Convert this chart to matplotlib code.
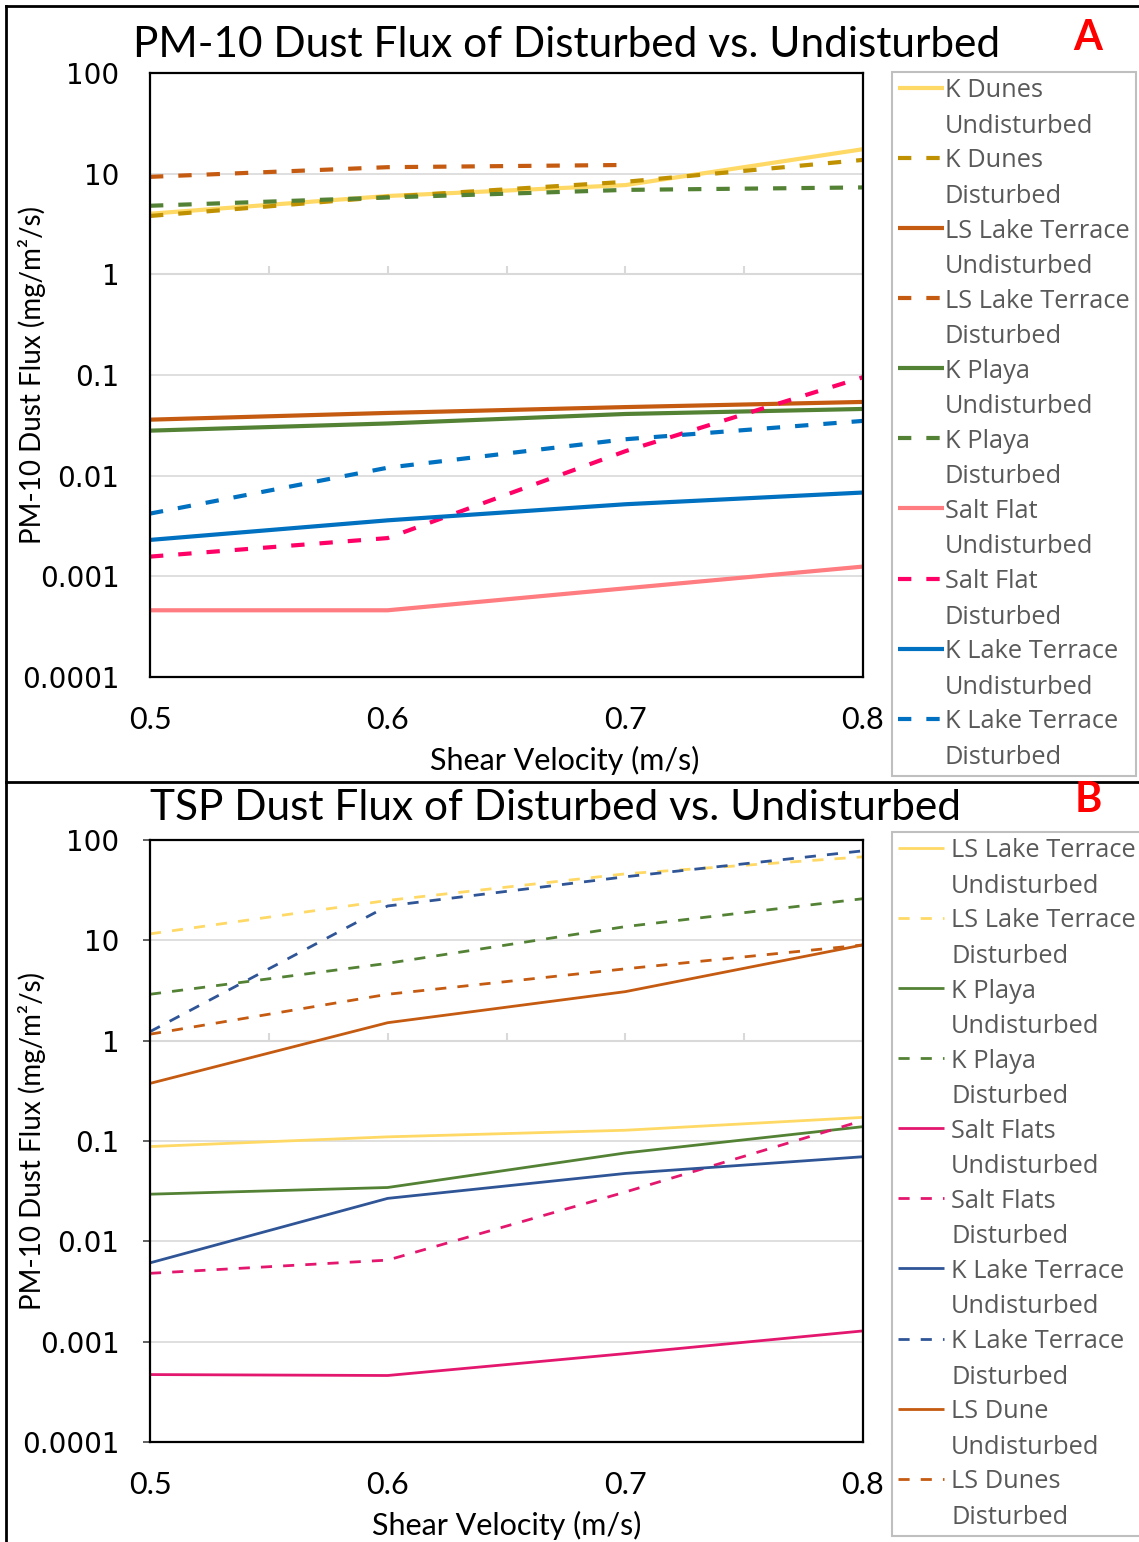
import numpy as np
import matplotlib
matplotlib.use("Agg")
import matplotlib.pyplot as plt
from matplotlib.lines import Line2D
from matplotlib.legend_handler import HandlerLine2D

# shear velocity (m/s)
shear = [0.5, 0.6, 0.7, 0.8]

# Panel A - PM-10 dust flux (mg/m2/s)
pm10_k_dunes_und = [4.0, 6.0, 7.7, 17.5]
pm10_k_dunes_dist = [3.8, 5.9, 8.3, 13.7]
pm10_ls_lake_und = [0.036, 0.042, 0.048, 0.054]
pm10_ls_lake_dist = [9.3, 11.6, 12.2, np.nan]
pm10_k_playa_und = [0.028, 0.033, 0.041, 0.046]
pm10_k_playa_dist = [4.8, 5.8, 6.9, 7.3]
pm10_salt_und = [0.00046, 0.00046, 0.00076, 0.00125]
pm10_salt_dist = [0.00157, 0.0024, 0.0175, 0.095]
pm10_k_lake_und = [0.0023, 0.0036, 0.0052, 0.0068]
pm10_k_lake_dist = [0.0042, 0.012, 0.023, 0.035]

pm10_labels = ["K Dunes\nUndisturbed", "K Dunes\nDisturbed",
               "LS Lake Terrace\nUndisturbed", "LS Lake Terrace\nDisturbed",
               "K Playa\nUndisturbed", "K Playa\nDisturbed",
               "Salt Flat\nUndisturbed", "Salt Flat\nDisturbed",
               "K Lake Terrace\nUndisturbed", "K Lake Terrace\nDisturbed"]
pm10_colors = ["#FFD966", "#BF9000", "#C55A11", "#C55A11", "#548235",
               "#548235", "#FF7C80", "#FF0066", "#0070C0", "#0070C0"]

# Panel B - TSP dust flux (mg/m2/s)
tsp_ls_lake_und = [0.088, 0.11, 0.128, 0.172]
tsp_ls_lake_dist = [11.6, 25, 46, 68]
tsp_k_playa_und = [0.0295, 0.0344, 0.076, 0.139]
tsp_k_playa_dist = [2.9, 5.9, 13.7, 26]
tsp_salt_und = [0.00047, 0.00046, 0.00076, 0.00128]
tsp_salt_dist = [0.0048, 0.0065, 0.031, 0.16]
tsp_k_lake_und = [0.0061, 0.0268, 0.0475, 0.0697]
tsp_k_lake_dist = [1.23, 22, 43, 78]
tsp_ls_dune_und = [0.375, 1.51, 3.08, 9.0]
tsp_ls_dune_dist = [1.16, 2.9, 5.2, 9.0]

tsp_labels = ["LS Lake Terrace\nUndisturbed", "LS Lake Terrace\nDisturbed",
              "K Playa\nUndisturbed", "K Playa\nDisturbed",
              "Salt Flats\nUndisturbed", "Salt Flats\nDisturbed",
              "K Lake Terrace\nUndisturbed", "K Lake Terrace\nDisturbed",
              "LS Dune\nUndisturbed", "LS Dunes\nDisturbed"]
tsp_colors = ["#FFD966", "#FFD966", "#548235", "#548235", "#E4176F",
              "#E4176F", "#2F5597", "#2F5597", "#C55A11", "#C55A11"]

y_ticks = [1e-4, 1e-3, 1e-2, 1e-1, 1, 10, 100]
y_ticklabels = ["0.0001", "0.001", "0.01", "0.1", "1", "10", "100"]
x_ticks = [0.5, 0.6, 0.7, 0.8]
x_ticklabels = ["0.5", "0.6", "0.7", "0.8"]
cross_ticks = [0.5, 0.55, 0.6, 0.65, 0.7, 0.75, 0.8]

W, H = 1139, 1542
fig = plt.figure(figsize=(W / 100, H / 100), dpi=100)


class FirstLineHandler(HandlerLine2D):
    # put the legend line next to the first text line, like Excel does
    def create_artists(self, legend, orig_handle, xdescent, ydescent,
                       width, height, fontsize, trans):
        arts = super().create_artists(legend, orig_handle, xdescent, ydescent,
                                      width, height, fontsize, trans)
        for a in arts:
            a.set_ydata(np.asarray(a.get_ydata()) + 0.84 * fontsize)
        return arts


def panel(rect, series, labels, colors, lw, dash, title, title_x, tick_len,
          xlabel_x, legend_top, title_y, text_pad):
    ax = fig.add_axes(rect)
    handles = []
    for i, (vals, col) in enumerate(zip(series, colors)):
        if i % 2 == 0:
            ln, = ax.plot(shear, vals, color=col, lw=lw, solid_capstyle="butt")
        else:
            ln, = ax.plot(shear, vals, color=col, lw=lw, dashes=dash,
                          dash_capstyle="butt")
        handles.append(ln)
    ax.set_yscale("log")
    ax.set_ylim(1e-4, 100)
    ax.set_xlim(0.5, 0.8)
    ax.set_yticks(y_ticks)
    ax.set_yticklabels(y_ticklabels, family="DejaVu Sans", fontsize=20)
    ax.yaxis.set_minor_locator(matplotlib.ticker.NullLocator())
    ax.set_xticks(x_ticks)
    ax.set_xticklabels(x_ticklabels, family="Lato", fontsize=22)
    ax.tick_params(axis="x", length=0, pad=21)
    ax.tick_params(axis="y", length=tick_len, width=1.2, pad=22 - tick_len,
                   color="#444444")
    ax.grid(axis="y", color="#D9D9D9", lw=1.2)
    ax.set_axisbelow(True)
    # horizontal axis crosses at 1
    ax.axhline(1, color="#D9D9D9", lw=1.5, zorder=0.5)
    ax.vlines(cross_ticks, 1, 1.2, color="#D9D9D9", lw=1.5, zorder=0.5)
    for s in ax.spines.values():
        s.set_color("black")
        s.set_linewidth(1.6)

    fig.text(title_x, title_y, title, ha="center", va="center",
             family="Lato", fontsize=30.5)
    fig.text(32 / W, rect[1] + rect[3] / 2, "PM-10 Dust Flux (mg/m\u00b2/s)",
             rotation=90, ha="center", va="center", family="Lato", fontsize=20)
    fig.text(xlabel_x, rect[1] - 83 / H, "Shear Velocity (m/s)", ha="center",
             va="center", family="Lato", fontsize=22)

    leg = fig.legend(handles, labels, loc="upper left",
                     bbox_to_anchor=(892 / W, legend_top),
                     bbox_transform=fig.transFigure, frameon=True,
                     fancybox=False, edgecolor="#BFBFBF", framealpha=1,
                     borderaxespad=0, borderpad=0.25, handlelength=1.78,
                     handletextpad=text_pad, labelspacing=0.38,
                     prop={"family": "Open Sans", "size": 18.3},
                     labelcolor="#595959",
                     handler_map={Line2D: FirstLineHandler()})
    leg.get_frame().set_linewidth(1.5)
    for t in leg.get_texts():
        t.set_linespacing(1.55)
    return ax


top_rect = [150 / W, 1 - 677 / H, 713 / W, 604 / H]
bot_rect = [150 / W, 1 - 1442 / H, 713 / W, 602 / H]

panel(top_rect,
      [pm10_k_dunes_und, pm10_k_dunes_dist, pm10_ls_lake_und, pm10_ls_lake_dist,
       pm10_k_playa_und, pm10_k_playa_dist, pm10_salt_und, pm10_salt_dist,
       pm10_k_lake_und, pm10_k_lake_dist],
      pm10_labels, pm10_colors, 3.0, (3.2, 3.6),
      "PM-10 Dust Flux of Disturbed vs. Undisturbed", 567 / W, 0,
      565 / W, 1 - 72 / H, 1 - 45 / H, 0.05)

panel(bot_rect,
      [tsp_ls_lake_und, tsp_ls_lake_dist, tsp_k_playa_und, tsp_k_playa_dist,
       tsp_salt_und, tsp_salt_dist, tsp_k_lake_und, tsp_k_lake_dist,
       tsp_ls_dune_und, tsp_ls_dune_dist],
      tsp_labels, tsp_colors, 2.0, (4, 4),
      "TSP Dust Flux of Disturbed vs. Undisturbed", 555 / W, 5,
      507 / W, 1 - 832 / H, 1 - 808 / H, 0.3)

# panel letters
fig.text(1088 / W, 1 - 38 / H, "A", color="red", fontweight="bold",
         family="Lato", fontsize=30, ha="center", va="center")
fig.text(1088 / W, 1 - 800 / H, "B", color="red", fontweight="bold",
         family="Lato", fontsize=30, ha="center", va="center")

# outer frame and separator
fig.add_artist(Line2D([6 / W, 6 / W], [0, 1 - 6 / H], color="black", lw=2))
fig.add_artist(Line2D([6 / W, 1], [1 - 6 / H, 1 - 6 / H], color="black", lw=2))
fig.add_artist(Line2D([6 / W, 1], [1 - 782 / H, 1 - 782 / H], color="black", lw=2))

fig.savefig("out.png", dpi=100)
